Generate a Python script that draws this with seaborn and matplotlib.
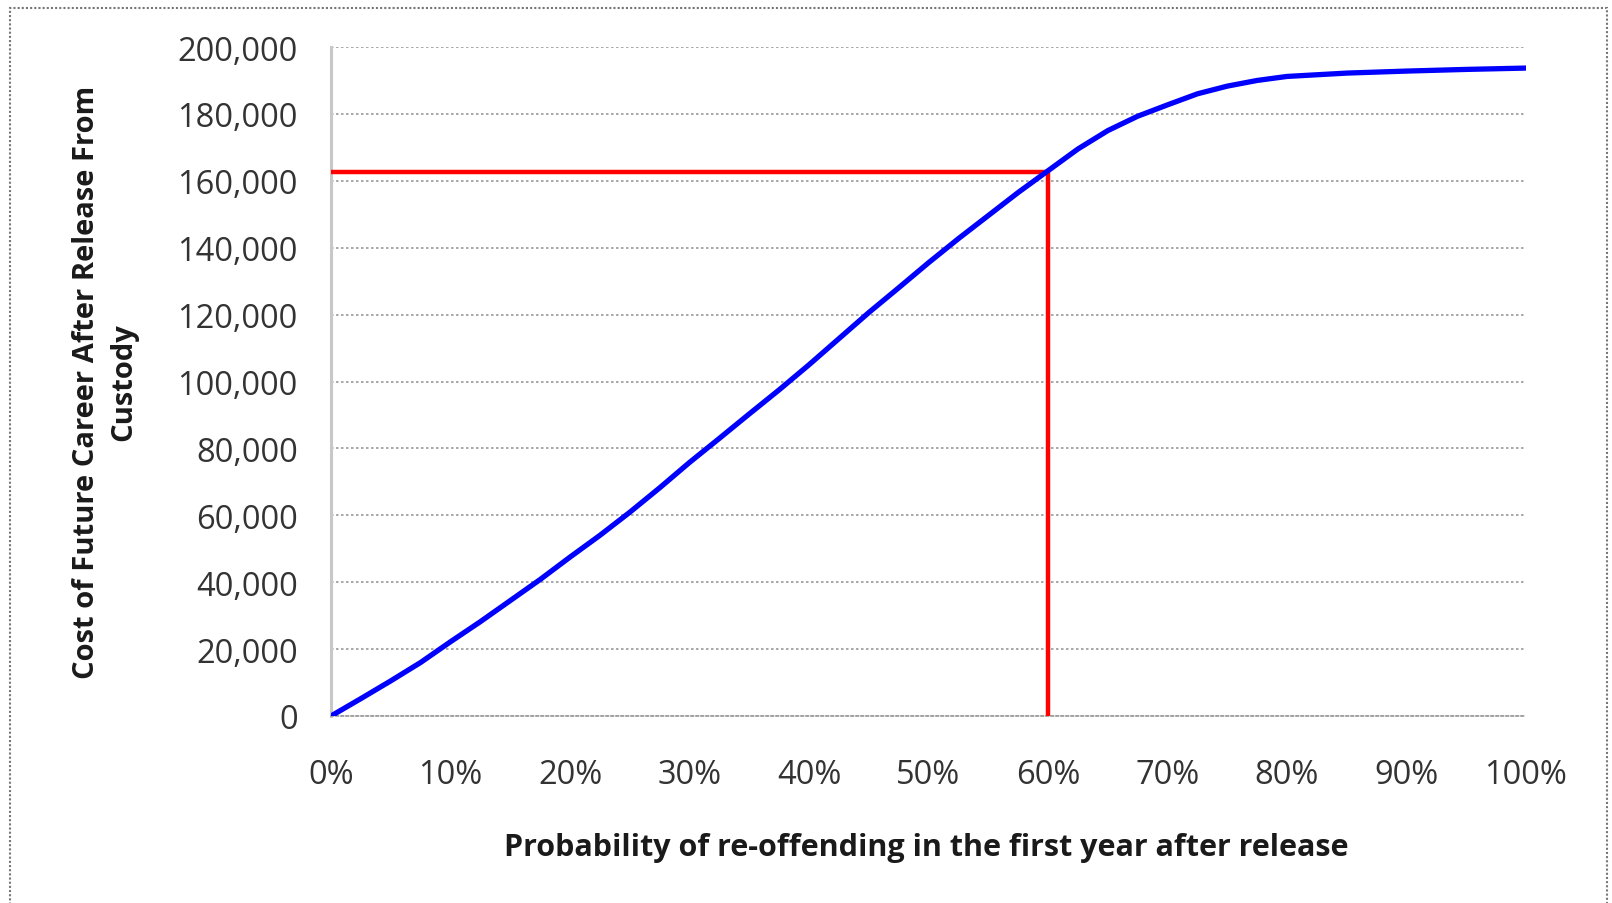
import numpy as np
import pandas as pd
import seaborn as sns
import matplotlib.pyplot as plt
from matplotlib.ticker import FuncFormatter, MultipleLocator
from matplotlib.patches import Rectangle

# Valori (probabilita' di recidiva -> costo)
prob = [0.000, 0.025, 0.050, 0.075, 0.100, 0.125, 0.150, 0.175, 0.200, 0.225,
        0.250, 0.275, 0.300, 0.325, 0.350, 0.375, 0.400, 0.425, 0.450, 0.475,
        0.500, 0.525, 0.550, 0.575, 0.600, 0.625, 0.650, 0.675, 0.700, 0.725,
        0.750, 0.775, 0.800, 0.850, 0.900, 0.950, 1.000]
cost = [0, 5200, 10500, 16000, 22200, 28200, 34500, 40800, 47500, 54000,
        60900, 68200, 75800, 83000, 90300, 97500, 105000, 112800, 120600, 128000,
        135500, 142700, 149600, 156500, 163000, 169500, 175000, 179300, 182700, 186000,
        188300, 190000, 191200, 192200, 192800, 193300, 193700]

marker_prob = 0.60
marker_cost = 162500

x_label = "Probability of re-offending in the first year after release"
y_label = "Cost of Future Career After Release From\nCustody"

df = pd.DataFrame({"prob": prob, "cost": cost})

sns.set_style("white")
plt.rcParams['font.family'] = ['Open Sans', 'DejaVu Sans']

fig = plt.figure(figsize=(16.12, 9.04), dpi=100)
ax = fig.add_axes([331 / 1612, 187 / 904, 1195 / 1612, 669 / 904])

# linee rosse di riferimento
ax.plot([0, marker_prob], [marker_cost, marker_cost], color="#ff0000", lw=3.2, zorder=3,
        solid_capstyle="butt")
ax.plot([marker_prob, marker_prob], [0, marker_cost], color="#ff0000", lw=3.2, zorder=3,
        solid_capstyle="butt")

# curva
sns.lineplot(data=df, x="prob", y="cost", ax=ax, color="#0000ff", lw=3.8, zorder=4)

ax.set_xlim(0, 1)
ax.set_ylim(0, 200000)
ax.xaxis.set_major_locator(MultipleLocator(0.1))
ax.yaxis.set_major_locator(MultipleLocator(20000))
ax.xaxis.set_major_formatter(FuncFormatter(lambda v, p: f"{v * 100:.0f}%"))
ax.yaxis.set_major_formatter(FuncFormatter(lambda v, p: f"{v:,.0f}"))

ax.yaxis.grid(True, color="#9a9a9a", lw=1.2, ls=(0, (1.5, 1.5)))
ax.xaxis.grid(False)

for s in ["top", "right"]:
    ax.spines[s].set_visible(False)
ax.spines["left"].set_color("#c8c8c8")
ax.spines["left"].set_linewidth(2.2)
ax.spines["bottom"].set_color("#9a9a9a")
ax.spines["bottom"].set_linewidth(1.2)
ax.spines["bottom"].set_linestyle((0, (1.5, 1.5)))

ax.tick_params(axis="x", direction="in", length=5, width=1, color="#9a9a9a",
               labelsize=23.5, labelcolor="#333333", pad=30)
ax.tick_params(axis="y", length=0, labelsize=23.5, labelcolor="#333333", pad=24)

ax.set_xlabel(x_label, fontsize=22, fontweight="bold", color="#1a1a1a")
ax.set_ylabel(y_label, fontsize=21, fontweight="bold", color="#1a1a1a", linespacing=1.4)
ax.xaxis.set_label_coords(0.498, -0.173)
ax.yaxis.set_label_coords(-0.161, 0.5)

# bordo tratteggiato attorno alla figura
border = Rectangle((10 / 1612, -0.02), 1597 / 1612, 1 - 9 / 904 + 0.02,
                   transform=fig.transFigure, fill=False, ec="#777777", lw=1.5,
                   ls=(0, (1, 1)), clip_on=False)
fig.patches.append(border)

fig.savefig("out.png", dpi=100)
